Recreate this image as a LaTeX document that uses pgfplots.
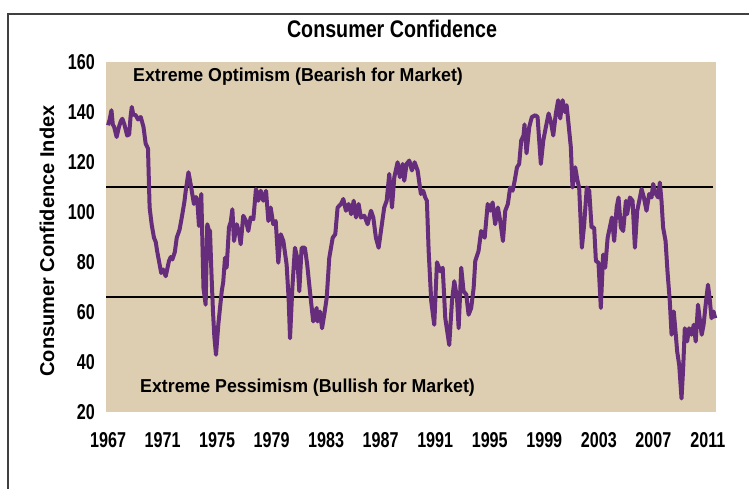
\documentclass[border=0pt]{standalone}
\usepackage{pgfplots}
\pgfplotsset{compat=1.18}
\usepackage{fontspec}
\setmainfont{Liberation Sans}
\newfontfamily\narrowfont{Liberation Sans}[FakeStretch=0.75]
\newfontfamily\titlefont{Liberation Sans}[FakeStretch=0.82]
\newfontfamily\annfont{Liberation Sans}[FakeStretch=0.95]
\definecolor{bgtan}{RGB}{221,206,178}
\definecolor{cpurple}{RGB}{102,45,124}
\begin{document}
\begin{tikzpicture}[x=1pt,y=1pt]
\useasboundingbox (0,0) rectangle (749,489);
\fill[white] (0,0) rectangle (749,489);
\draw[black!75, line width=1.3pt] (8,0) -- (8,475) -- (749,475);
\begin{axis}[
  at={(106pt,77pt)}, anchor=south west,
  scale only axis, width=610pt, height=350pt,
  xmin=1966.85, xmax=2011.6, ymin=20, ymax=160,
  xtick={1967,1971,...,2011},
  ytick={20,40,...,160},
  axis background/.style={fill=bgtan},
  axis line style={draw=none},
  tick style={draw=none},
  major tick length=0pt,
  /pgf/number format/assume math mode=true,
  xticklabel={\pgfmathprintnumber[1000 sep={},fixed,precision=0]{\tick}},
  ticklabel style={font=\narrowfont\bfseries\fontsize{21.5}{25}\selectfont, inner sep=0pt},
  xticklabel style={anchor=north, yshift=-20pt},
  yticklabel style={anchor=east, xshift=-11pt},
  clip=false,
]
\addplot[black, line width=2pt] coordinates {(1966.85,110) (2011.4,110)};
\addplot[black, line width=2pt] coordinates {(1966.85,66) (2011.4,66)};
\addplot[cpurple, line width=4pt, line join=round] coordinates {
(1967.00,134.7) (1967.12,137) (1967.25,140.7) (1967.35,135) (1967.45,134) (1967.63,130)
(1967.8,134) (1967.95,136.5) (1968.05,137.3) (1968.2,135) (1968.4,130.6) (1968.55,131)
(1968.65,138) (1968.74,142) (1968.85,139) (1969.03,138.7) (1969.2,137) (1969.4,138)
(1969.6,134) (1969.76,127.3) (1969.93,125.4) (1970.05,101.8) (1970.2,95) (1970.37,89.7)
(1970.5,88) (1970.6,84.4) (1970.9,75.6) (1971.05,77) (1971.23,74.3) (1971.47,80.4)
(1971.6,82) (1971.72,81) (1971.9,84) (1972.04,89.7) (1972.25,93) (1972.45,99.1)
(1972.6,104) (1972.7,108.5) (1972.9,115.9) (1973.0,113) (1973.1,109.8) (1973.3,103.2)
(1973.45,106) (1973.55,104.5) (1973.67,94.4) (1973.75,102) (1973.84,107.2) (1974.0,69.6)
(1974.16,62.9) (1974.28,95.1) (1974.38,93) (1974.48,92.4) (1974.58,76.3) (1974.7,60)
(1974.8,50) (1974.92,42.9) (1975.09,55) (1975.34,68.3) (1975.45,72) (1975.58,81.7)
(1975.7,77.7) (1975.87,93.8) (1976.0,96) (1976.12,101.1) (1976.24,88.4) (1976.44,95.1)
(1976.6,92) (1976.73,87.1) (1976.92,98.5) (1977.12,96.4) (1977.29,92.4) (1977.46,97.8)
(1977.66,97.1) (1977.85,109.2) (1978.02,104.5) (1978.2,108.5) (1978.39,104.5) (1978.59,108.5)
(1978.76,96.4) (1978.93,101.8) (1979.12,95.1) (1979.3,96.4) (1979.49,79.7) (1979.67,91.1)
(1979.86,88.4) (1980.1,79) (1980.25,65) (1980.35,49.5) (1980.52,69.6) (1980.71,85.7)
(1980.88,81.7) (1981.03,68.3) (1981.2,85.7) (1981.44,85.7) (1981.61,79) (1981.81,68.3)
(1982.05,56.2) (1982.3,61.6) (1982.37,56.2) (1982.55,60.2) (1982.7,53.5) (1982.86,58.9)
(1983.04,65.6) (1983.23,81.7) (1983.48,89.7) (1983.67,91.1) (1983.84,101.8) (1984.09,103.2)
(1984.26,105.2) (1984.45,100.5) (1984.65,103.2) (1984.84,99.1) (1985.02,104.5) (1985.19,97.8)
(1985.38,103.2) (1985.55,97.8) (1985.8,98.5) (1986.04,95.1) (1986.29,100.5) (1986.46,97.8)
(1986.65,89.7) (1986.85,85.7) (1987.02,92.4) (1987.26,101.8) (1987.44,104.5) (1987.63,115.2)
(1987.83,101.8) (1988.0,113.9) (1988.24,119.9) (1988.41,113.9) (1988.61,119.2) (1988.73,112.5)
(1988.9,119.2) (1989.1,120.6) (1989.29,116.6) (1989.49,119.9) (1989.71,116.6) (1989.95,107.2)
(1990.12,108.5) (1990.27,105.8) (1990.39,104.5) (1990.52,84.4) (1990.71,64.3) (1990.93,54.9)
(1991.13,79.9) (1991.37,76.3) (1991.55,77.7) (1991.74,57.5) (1992.03,46.8) (1992.23,64.3)
(1992.4,72.3) (1992.6,65.6) (1992.72,53.5) (1992.91,77.7) (1993.08,68.3) (1993.28,67)
(1993.45,58.9) (1993.64,61.6) (1993.82,69.6) (1993.94,80.4) (1994.18,84.4) (1994.37,92.4)
(1994.63,89.7) (1994.85,103.2) (1995.04,100.5) (1995.21,103.8) (1995.4,95.1) (1995.6,101.8)
(1995.77,96.4) (1995.97,88.4) (1996.14,100.5) (1996.33,103.2) (1996.5,109.8) (1996.68,108.5)
(1996.83,112.5) (1997.0,117.9) (1997.16,119.2) (1997.31,128.6) (1997.48,130.6) (1997.55,135)
(1997.7,123.5) (1997.9,134) (1998.09,138) (1998.34,138.7) (1998.51,138) (1998.75,119.2)
(1998.93,128.6) (1999.12,134) (1999.32,139.4) (1999.49,136) (1999.66,130.6) (1999.85,139.4)
(2000.02,144.7) (2000.17,137.4) (2000.35,144.7) (2000.51,140) (2000.64,142.7) (2000.78,135.3)
(2000.95,125.9) (2001.07,109.8) (2001.27,117.9) (2001.44,112.5) (2001.56,109.8) (2001.76,85.7)
(2001.93,95.1) (2002.12,109.8) (2002.3,108.5) (2002.47,93.8) (2002.66,93.8) (2002.79,80.4)
(2002.98,79.7) (2003.15,61.6) (2003.32,83) (2003.47,77.7) (2003.65,89.7) (2003.81,93.8)
(2003.96,97.8) (2004.13,88.4) (2004.31,101.8) (2004.45,105.8) (2004.62,93.8) (2004.79,92.4)
(2004.99,104.5) (2005.08,99.1) (2005.28,105.8) (2005.48,104.5) (2005.65,85.7) (2005.82,100.5)
(2005.97,104.5) (2006.14,109.2) (2006.31,105.8) (2006.5,100.5) (2006.7,107.2) (2006.87,105.8)
(2006.99,111.2) (2007.19,107.2) (2007.36,105.8) (2007.48,111.8) (2007.6,104.5) (2007.72,93.8)
(2007.9,88.4) (2008.04,76.3) (2008.21,64.3) (2008.34,50.9) (2008.5,60.2) (2008.65,50.9)
(2008.75,44.2) (2008.9,38.8) (2009.07,25.4) (2009.19,37.4) (2009.31,53.5) (2009.48,48.2)
(2009.63,53.5) (2009.8,50.9) (2009.97,54.9) (2010.11,48.2) (2010.28,62.9) (2010.4,57.5)
(2010.55,50.9) (2010.69,54.9) (2010.84,62.9) (2011.01,70.9) (2011.13,65.6) (2011.27,57.5)
(2011.42,60.2) (2011.54,57.5)
};
\end{axis}
\node[font=\titlefont\bfseries\fontsize{24}{28}\selectfont] at (392,460) {Consumer Confidence};
\node[rotate=90, font=\bfseries\fontsize{20}{24}\selectfont] at (47,248) {Consumer Confidence Index};
\node[anchor=west, inner sep=0pt, font=\annfont\bfseries\fontsize{18.7}{22}\selectfont] at (133,412) {Extreme Optimism (Bearish for Market)};
\node[anchor=west, inner sep=0pt, font=\annfont\bfseries\fontsize{18.7}{22}\selectfont] at (140,101) {Extreme Pessimism (Bullish for Market)};
\end{tikzpicture}
\end{document}
